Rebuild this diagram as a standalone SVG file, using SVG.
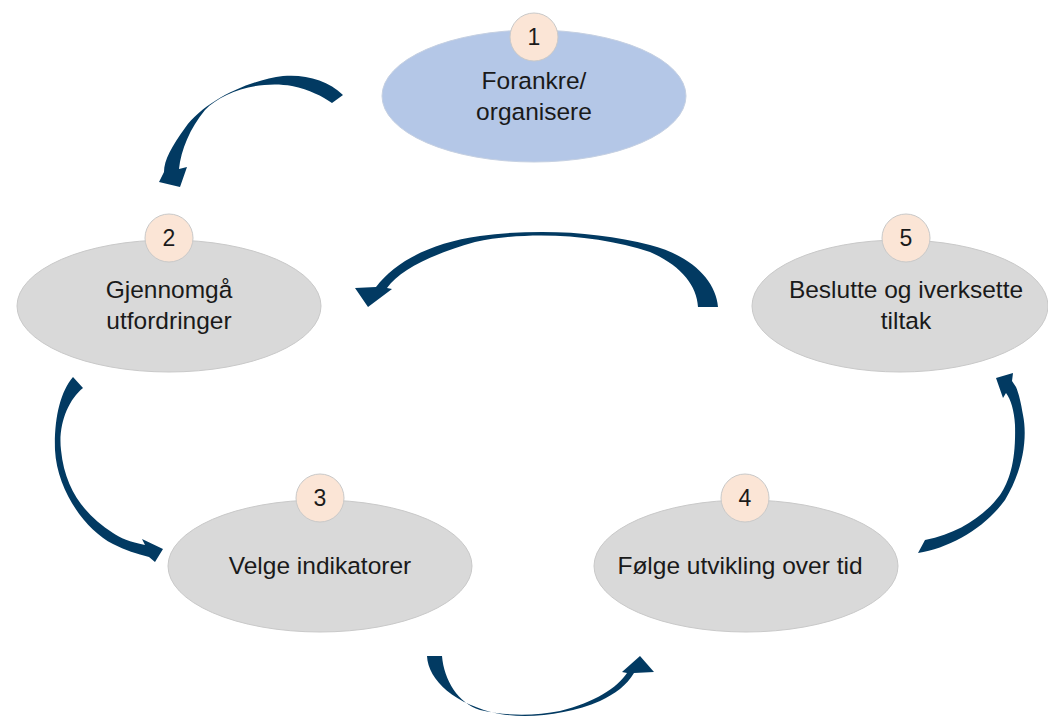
<svg xmlns="http://www.w3.org/2000/svg" width="1048" height="718" viewBox="0 0 1048 718">
<style>
.el{fill:#d9d9d9;stroke:#c9c9c9;stroke-width:1}
.el1{fill:#b4c7e7;stroke:#c5d0e2;stroke-width:1}
.badge{fill:#fbe5d6;stroke:#c9c9c9;stroke-width:1}
.t{font-family:"Liberation Sans",Arial,sans-serif;font-size:24.5px;fill:#1a1a1a;text-anchor:middle}
.n{font-family:"Liberation Sans",Arial,sans-serif;font-size:23px;fill:#1a1a1a;text-anchor:middle}
.arr{fill:#023a62}
</style>
<rect width="1048" height="718" fill="#ffffff"/>
<g id="connectors">
<path class="arr" d="M343,95 C328,80 305,74 283,76 C250,80 205,100 185,128 C172,146 164,160 164,172 L159,182 L180,187 L187,167 L179,169 C181,150 190,128 205,110 C222,92 260,80 292,86 C310,90 322,96 332,103 Z"/>
<path class="arr" d="M718,307 C716,280 690,255 650,245 C600,232 540,228 480,236 C430,243 395,262 376,287 L355,288 L368,307 L392,289 L387,288 C400,270 430,255 475,242 C530,230 600,235 650,252 C680,265 697,285 698,307 Z"/>
<path class="arr" d="M73,377 C60,392 54,420 55,450 C57,490 85,530 113,544 C125,550 137,554 149,557 L155,562 L163,549 L142,539 L145,545 C130,542 120,538 113,533 C85,515 65,490 61,450 C58,425 68,400 83,388 Z"/>
<path class="arr" d="M427,656 C428,680 455,705 500,714 C530,719 570,714 600,701 C615,694 627,685 634,673 L654,672 L640,656 L622,672 L627,673 C617,688 595,702 560,711 C535,716 505,716 480,710 C458,703 444,680 442,656 Z"/>
<path class="arr" d="M918,553 C950,548 985,528 1005,500 C1022,472 1028,440 1023,415 C1021,403 1019,394 1016,387 L1012,381 L1013,373 L996,378 L1003,398 L1006,393 C1011,400 1014,410 1015,425 C1016,460 1010,480 1000,495 C985,515 960,533 925,540 Z"/>
</g>
<g id="node1">
<ellipse class="el1" cx="534" cy="96" rx="152" ry="66"/>
<circle class="badge" cx="534" cy="37" r="24"/>
<text class="n" x="534" y="45">1</text>
<text class="t" x="534" y="89">Forankre/</text>
<text class="t" x="534" y="120">organisere</text>
</g>
<g id="node2">
<ellipse class="el" cx="169" cy="306" rx="152" ry="66"/>
<circle class="badge" cx="169" cy="238" r="24"/>
<text class="n" x="169" y="246">2</text>
<text class="t" x="169" y="298">Gjennomgå</text>
<text class="t" x="169" y="329">utfordringer</text>
</g>
<g id="node3">
<ellipse class="el" cx="320" cy="566" rx="152" ry="66"/>
<circle class="badge" cx="320" cy="498" r="24"/>
<text class="n" x="320" y="506">3</text>
<text class="t" x="320" y="574">Velge indikatorer</text>
</g>
<g id="node4">
<ellipse class="el" cx="746" cy="566" rx="152" ry="66"/>
<circle class="badge" cx="745" cy="498" r="24"/>
<text class="n" x="745" y="506">4</text>
<text class="t" x="740" y="574">Følge utvikling over tid</text>
</g>
<g id="node5">
<ellipse class="el" cx="900" cy="306" rx="148" ry="66"/>
<circle class="badge" cx="906" cy="238" r="24"/>
<text class="n" x="906" y="246">5</text>
<text class="t" x="906" y="298">Beslutte og iverksette</text>
<text class="t" x="906" y="329">tiltak</text>
</g>
</svg>
